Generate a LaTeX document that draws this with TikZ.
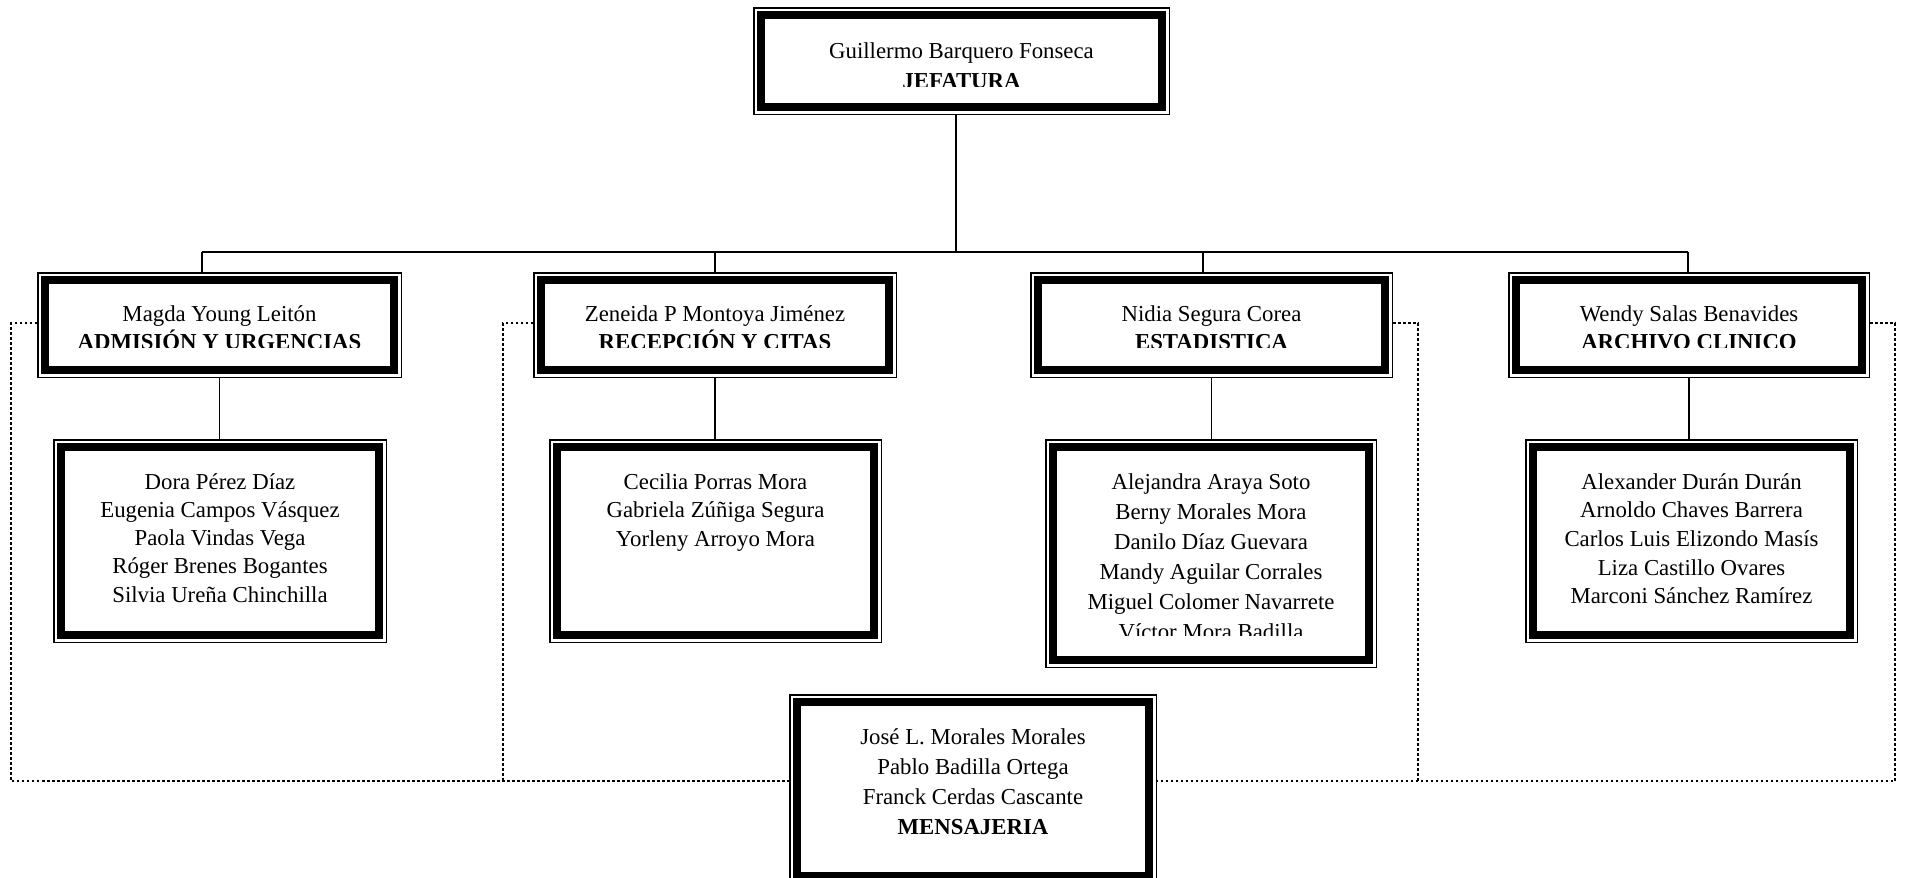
\documentclass[tikz,border=0pt]{standalone}
\usepackage{fontspec}
\setmainfont{Liberation Serif}
\usetikzlibrary{fit}
\tikzset{
  boxfit/.style={inner sep=0pt, outer sep=0pt, draw=none},
  thinborder/.style={draw=black, line width=1.5pt},
  thickborder/.style={draw=black, line width=8pt},
  txt/.style={inner sep=0pt, outer sep=0pt, text=black},
  conn/.style={draw=black, line width=1.9pt},
  dotline/.style={draw=black, line width=2.5pt, dash pattern=on 2.5pt off 2.5pt},
}
\newcommand\orgbox[5]{%
  \node[boxfit, fit={(#2,#3)(#4,#5)}] (#1) {};
  \draw[thinborder] (#2+0.75,#3+0.75) rectangle (#4-0.75,#5-0.75);
  \draw[thickborder] (#2+8,#3+8) rectangle (#4-8,#5-8);
}
\newcommand\orgtext[7]{%
  \begin{scope}
    \clip (#2.north west) rectangle (#2.east |- 0,#6);
    \node[txt, anchor=base] (#1) at (#3,#4)
      {\fontsize{22.8}{#5}\selectfont\begin{tabular}[t]{@{}c@{}}#7\end{tabular}};
  \end{scope}}
\begin{document}
\begin{tikzpicture}[x=1pt, y=-1pt]
\fill[white] (0,0) rectangle (1907,878);
\useasboundingbox (0,0) rectangle (1907,878);

% boxes
\orgbox{T}{753}{7}{1170}{115}
\orgbox{H1}{37}{272}{402}{378}
\orgbox{H2}{533}{272}{897}{378}
\orgbox{H3}{1030}{272}{1393}{378}
\orgbox{H4}{1508}{272}{1870}{378}
\orgbox{C1}{53}{439}{387}{643}
\orgbox{C2}{549}{439}{882}{643}
\orgbox{C3}{1045}{439}{1377}{668}
\orgbox{C4}{1525}{439}{1858}{643}
\orgbox{M}{789}{694}{1157}{884}

% texts
\orgtext{tT}{T}{961.5}{58}{30}{86}{Guillermo Barquero Fonseca\\\textbf{JEFATURA}}
\orgtext{tH1}{H1}{219.5}{321}{28}{347}{Magda Young Leitón\\\textbf{ADMISIÓN Y URGENCIAS}}
\orgtext{tH2}{H2}{715}{321}{28}{347}{Zeneida P Montoya Jiménez\\\textbf{RECEPCIÓN Y CITAS}}
\orgtext{tH3}{H3}{1211.5}{321}{28}{347}{Nidia Segura Corea\\\textbf{ESTADISTICA}}
\orgtext{tH4}{H4}{1689}{321}{28}{347}{Wendy Salas Benavides\\\textbf{ARCHIVO CLINICO}}
\orgtext{tC1}{C1}{220}{489}{28.3}{643}{Dora Pérez Díaz\\Eugenia Campos Vásquez\\Paola Vindas Vega\\Róger Brenes Bogantes\\Silvia Ureña Chinchilla}
\orgtext{tC2}{C2}{715.5}{489}{28.5}{643}{Cecilia Porras Mora\\Gabriela Zúñiga Segura\\Yorleny Arroyo Mora}
\orgtext{tC3}{C3}{1211}{489}{30}{635}{Alejandra Araya Soto\\Berny Morales Mora\\Danilo Díaz Guevara\\Mandy Aguilar Corrales\\Miguel Colomer Navarrete\\Víctor Mora Badilla}
\orgtext{tC4}{C4}{1691.5}{489}{28.7}{643}{Alexander Durán Durán\\Arnoldo Chaves Barrera\\Carlos Luis Elizondo Masís\\Liza Castillo Ovares\\Marconi Sánchez Ramírez}
\orgtext{tM}{M}{973}{744}{30}{884}{José L. Morales Morales\\Pablo Badilla Ortega\\Franck Cerdas Cascante\\\textbf{MENSAJERIA}}

% bus coordinates
\coordinate (b0) at (956,252);
\coordinate (b1) at (202,252);
\coordinate (b2) at (715,252);
\coordinate (b3) at (1203,252);
\coordinate (b4) at (1688,252);

% solid connectors
\draw[conn] (T.south -| b0) -- (b0);
\draw[conn] (b1) -- (b4);
\draw[conn] (b1) -- (b1 |- H1.north);
\draw[conn] (b2) -- (b2 |- H2.north);
\draw[conn] (b3) -- (b3 |- H3.north);
\draw[conn] (b4) -- (b4 |- H4.north);
\draw[conn] (H1.south) -- (H1.south |- C1.north);
\draw[conn] (H2.south) -- (H2.south |- C2.north);
\draw[conn] (H3.south) -- (H3.south |- C3.north);
\draw[conn] (H4.south) -- (H4.south |- C4.north);

% dotted connectors to MENSAJERIA
\coordinate (d1) at (11,323);
\coordinate (d2) at (503,323);
\coordinate (d3) at (1418,323);
\coordinate (d4) at (1895,323);
\coordinate (yl) at (0,781);
\draw[dotline] (d1 -| H1.west) -- (d1) -- (d1 |- yl) -- (yl -| M.west);
\draw[dotline] (d2 -| H2.west) -- (d2) -- (d2 |- yl);
\draw[dotline] (d3 -| H3.east) -- (d3) -- (d3 |- yl);
\draw[dotline] (d4 -| H4.east) -- (d4) -- (d4 |- yl) -- (yl -| M.east);
\end{tikzpicture}
\end{document}
